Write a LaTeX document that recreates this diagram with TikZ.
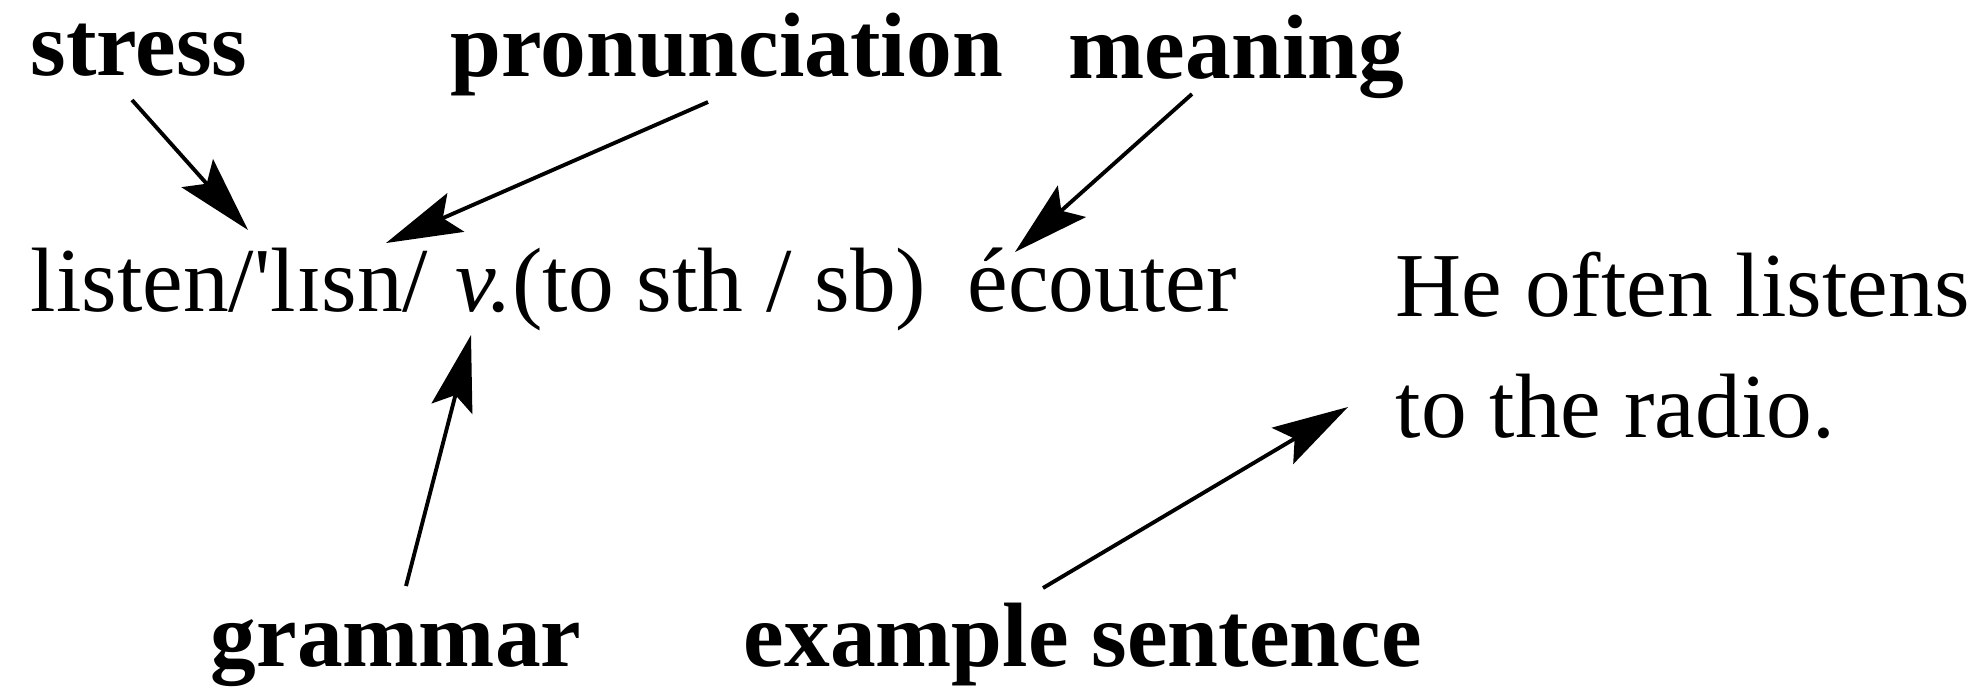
\documentclass[tikz,border=0pt]{standalone}
\usepackage{fontspec}
\setmainfont{Liberation Serif}
\usetikzlibrary{arrows.meta}
\tikzset{
  lbl/.style={anchor=base west, inner sep=0pt, font=\fontsize{26}{30}\selectfont\bfseries},
  txt/.style={anchor=base west, inner sep=0pt, font=\fontsize{26}{30}\selectfont},
  pointer/.style={line width=1.1pt, -{Stealth[length=0.76cm, width=0.42cm, inset=0.14cm]}}
}
\begin{document}
\begin{tikzpicture}[x=0.01cm, y=-0.01cm]
\useasboundingbox[fill=white] (0,0) rectangle (1978,693);
% labels
\node[lbl] (stress) at (30,75) {stress};
\node[lbl] (pron) at (450,76) {pronunciation};
\node[lbl] (mean) at (1068,78) {meaning};
\node[lbl] (gram) at (210,666) {grammar};
\node[lbl] (ex) at (743,666) {example sentence};
% entry
\node[txt] (entry) at (30,311) {listen/\textquotesingle lɪsn/\hspace{0.3em}\textit{v.}(to sth / sb)\hspace{0.2em} écouter};
\node[txt] (ex1) at (1395,316) {He often listens};
\node[txt] (ex2) at (1395,437) {to the radio.};
% arrow ends
\coordinate (s0) at (132,100);  \coordinate (s1) at (248,230);
\coordinate (p0) at (708,102);  \coordinate (p1) at (386,243);
\coordinate (m0) at (1192,94);  \coordinate (m1) at (1015,252);
\coordinate (g0) at (406,586);  \coordinate (g1) at (471,335);
\coordinate (e0) at (1043,588); \coordinate (e1) at (1348,407);
\draw[pointer] (s0) -- (s1);
\draw[pointer] (p0) -- (p1);
\draw[pointer] (m0) -- (m1);
\draw[pointer] (g0) -- (g1);
\draw[pointer] (e0) -- (e1);
\end{tikzpicture}
\end{document}
